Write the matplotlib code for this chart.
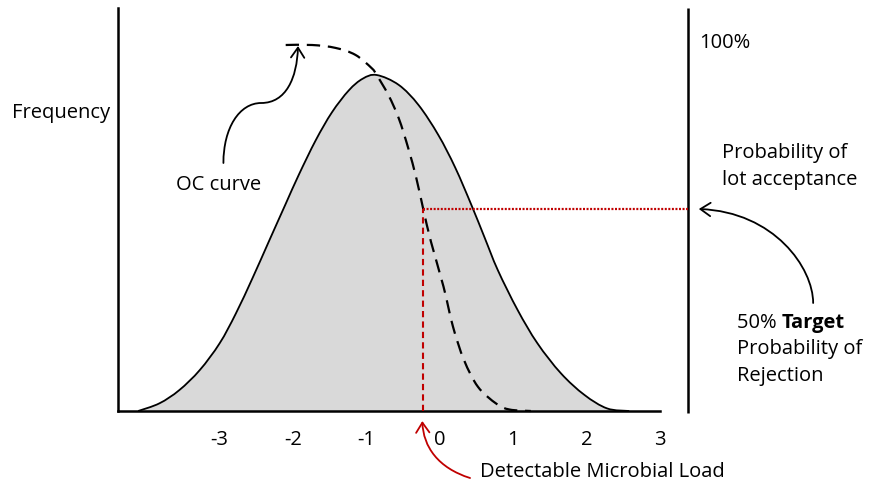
import matplotlib
matplotlib.use("Agg")
import matplotlib.pyplot as plt
from matplotlib.patches import FancyArrowPatch, PathPatch
from matplotlib.path import Path

plt.rcParams['font.family'] = ['Open Sans', 'DejaVu Sans']

# Frequency distribution (bell curve)
bell_x = [-4.11, -3.82, -3.55, -3.27, -3.00, -2.78, -2.55, -2.33, -2.10, -1.92,
          -1.69, -1.47, -1.24, -1.05, -0.86, -0.56, -0.29, -0.02, 0.21, 0.43,
          0.61, 0.79, 1.06, 1.33, 1.65, 1.97, 2.28, 2.58]
bell_y = [0.0, 2.1, 5.7, 11.2, 18.5, 26.6, 36.4, 46.3, 56.6, 64.6,
          74.0, 81.6, 87.6, 90.8, 91.8, 89.1, 83.6, 75.4, 66.5, 56.3,
          47.4, 38.5, 27.6, 18.5, 10.3, 4.4, 0.7, 0.0]

# OC curve (probability of acceptance, %)
oc_x = [-2.10, -1.74, -1.42, -1.15, -0.93, -0.86, -0.70, -0.56, -0.43, -0.32,
        -0.225, -0.12, 0.05, 0.18, 0.33, 0.52, 0.77, 0.95, 1.24]
oc_y = [100.0, 100.0, 99.2, 97.3, 93.7, 91.8, 86.3, 80.0, 71.8, 63.6,
        55.1, 46.2, 34.0, 23.0, 13.9, 6.6, 2.0, 0.4, 0.0]

# Target point (50% target)
target_x = -0.225
target_y = 55.1

tick_values = [-3, -2, -1, 0, 1, 2, 3]
tick_labels = ['-3', '-2', '-1', '0', '1', '2', '3']

W, H = 872, 482
fig = plt.figure(figsize=(W / 100, H / 100), dpi=100)
ax = fig.add_axes([118 / W, (H - 411) / H, (660 - 118) / W, (411 - 8) / H])

# pixel -> data helper (for annotation placement)
X0, XS = 441.6, 73.8
Y0, YS = 411.0, 3.66
def d(px, py):
    return ((px - X0) / XS, (Y0 - py) / YS)

ax.set_xlim(d(118, 0)[0], d(660, 0)[0])
ax.set_ylim(0, d(0, 8)[1])

for s in ['top', 'right']:
    ax.spines[s].set_visible(False)
for s in ['left', 'bottom']:
    ax.spines[s].set_linewidth(1.8)
    ax.spines[s].set_color('black')

fs = 14.5
ax.set_yticks([])
ax.set_xticks(tick_values)
ax.set_xticklabels(tick_labels, fontsize=fs)
ax.tick_params(axis='x', length=0, pad=14)


def smooth_path(xs, ys, close_to_baseline=False):
    """Smooth curve through the read points (Catmull-Rom drawn as Bezier)."""
    pts = list(zip(xs, ys))
    n = len(pts)
    verts = [pts[0]]
    codes = [Path.MOVETO]
    for i in range(n - 1):
        p0 = pts[i - 1] if i > 0 else pts[i]
        p1 = pts[i]
        p2 = pts[i + 1]
        p3 = pts[i + 2] if i + 2 < n else pts[i + 1]
        c1 = (p1[0] + (p2[0] - p0[0]) / 6, p1[1] + (p2[1] - p0[1]) / 6)
        c2 = (p2[0] - (p3[0] - p1[0]) / 6, p2[1] - (p3[1] - p1[1]) / 6)
        verts += [c1, c2, p2]
        codes += [Path.CURVE4] * 3
    if close_to_baseline:
        verts += [(xs[0], 0), (xs[0], 0)]
        codes += [Path.LINETO, Path.CLOSEPOLY]
    return Path(verts, codes)


# bell curve
ax.add_patch(PathPatch(smooth_path(bell_x, bell_y, True), facecolor='#d9d9d9',
                       edgecolor='none', zorder=1))
ax.add_patch(PathPatch(smooth_path(bell_x, bell_y), facecolor='none',
                       edgecolor='black', lw=1.3, zorder=3))

# OC curve
ax.add_patch(PathPatch(smooth_path(oc_x, oc_y), facecolor='none', edgecolor='black',
                       lw=1.6, linestyle=(0, (6, 3.5)), zorder=4, clip_on=False))

# red target lines
red = '#C00000'
ax.plot([target_x, target_x], [0, target_y], color=red, lw=1.5,
        linestyle=(0, (3, 2)), zorder=5)
right_x = d(691, 0)[0]
ax.plot([target_x, right_x], [target_y, target_y], color=red, lw=1.6,
        linestyle=(0, (0.9, 0.7)), zorder=5, clip_on=False)

# right vertical axis line
ax.plot([right_x, right_x], [d(0, 413)[1], d(0, 8)[1]], color='black', lw=1.8,
        clip_on=False, solid_capstyle='butt')

# texts
ax.text(*d(11, 118), 'Frequency', fontsize=fs, ha='left', va='baseline')
ax.text(*d(176, 190), 'OC curve', fontsize=fs, ha='left', va='baseline')
ax.text(*d(702, 48), '100%', fontsize=fs, ha='left', va='baseline', clip_on=False)
ax.text(*d(725, 158), 'Probability of', fontsize=fs, ha='left', va='baseline', clip_on=False)
ax.text(*d(725, 185), 'lot acceptance', fontsize=fs, ha='left', va='baseline', clip_on=False)
t1 = ax.text(*d(740, 328), '50% ', fontsize=fs, ha='left', va='baseline', clip_on=False)
fig.canvas.draw()
bb = t1.get_window_extent()
inv = ax.transData.inverted()
xt = inv.transform((bb.x1, bb.y0))[0]
ax.text(xt, d(0, 328)[1], 'Target', fontsize=fs, fontweight='bold', ha='left',
        va='baseline', clip_on=False)
ax.text(*d(740, 354), 'Probability of', fontsize=fs, ha='left', va='baseline', clip_on=False)
ax.text(*d(740, 381), 'Rejection', fontsize=fs, ha='left', va='baseline', clip_on=False)
ax.text(*d(482, 477), 'Detectable Microbial Load', fontsize=fs, ha='left',
        va='baseline', clip_on=False)

# curved arrows
def arrow(points, codes, color):
    p = Path([d(*pt) for pt in points], codes)
    a = FancyArrowPatch(path=p, arrowstyle='->,head_length=0.45,head_width=0.3',
                        mutation_scale=16, color=color, lw=1.3, clip_on=False,
                        zorder=6)
    ax.add_patch(a)

C4 = Path.CURVE4
arrow([(224, 163), (224, 128), (240, 103), (262, 103),
       (287, 103), (298, 78), (299, 46)],
      [Path.MOVETO, C4, C4, C4, C4, C4, C4], 'black')
arrow([(472, 478), (440, 468), (425, 447), (424, 421)],
      [Path.MOVETO, C4, C4, C4], red)
arrow([(817, 303), (817, 268), (778, 212), (702, 209)],
      [Path.MOVETO, C4, C4, C4], 'black')

fig.savefig('out.png', dpi=100)
